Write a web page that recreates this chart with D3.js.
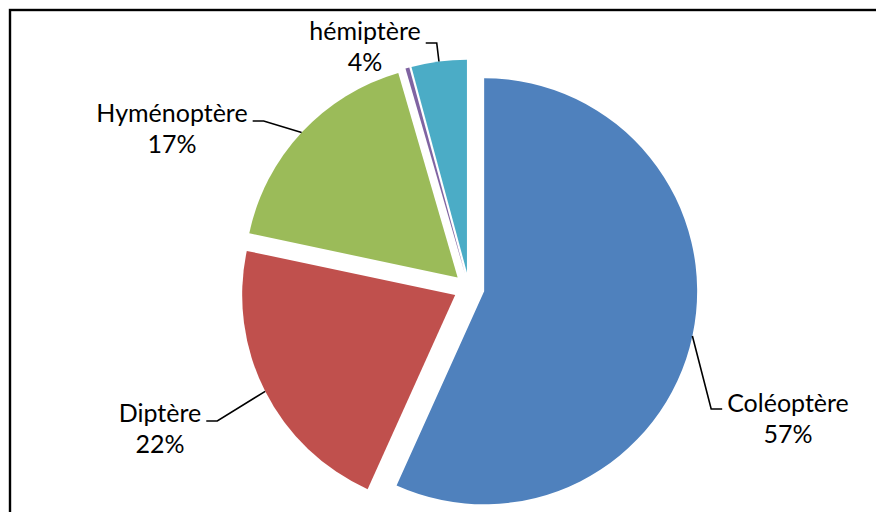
<!DOCTYPE html>
<html>
<head>
<meta charset="utf-8">
<script src="https://cdn.jsdelivr.net/npm/d3@7"></script>
<style>
  html, body { margin: 0; padding: 0; background: #fff; }
  svg { display: block; }
  text { font-family: Lato, "Open Sans", sans-serif; fill: #000; }
</style>
</head>
<body>
<svg id="chart" width="876" height="512"></svg>
<script>
// Insect orders, share of captured specimens
const categories = ["Coléoptère", "Diptère", "Hyménoptère", "autres", "hémiptère"];
const values = [56.8, 21.6, 17.2, 0.3, 4.2];
const colors = ["#4F81BD", "#C0504D", "#9BBB59", "#8064A2", "#4BACC6"];

// Label placement: centre x of the text block, first baseline, leader height
const labelLayout = [
  { x: 788, y: 412, ly: 409, side: "right" },
  { x: 160, y: 422, ly: 421, side: "left" },
  { x: 172, y: 122, ly: 121, side: "left" },
  null,
  { x: 365, y: 40, ly: 43, side: "left" }
];

const svg = d3.select("#chart");
const cx = 469, cy = 288, radius = 213, explode = 15.5;
const fontSize = 25, lineGap = 31;

// Chart frame (runs past the right and bottom edges)
svg.append("rect")
  .attr("x", 10).attr("y", 10)
  .attr("width", 900).attr("height", 600)
  .attr("fill", "none").attr("stroke", "#000").attr("stroke-width", 2.4);

const data = categories.map((c, i) => ({ name: c, value: values[i], color: colors[i], layout: labelLayout[i] }));
const total = d3.sum(values);
const pct = d3.format(".0%");

const pie = d3.pie().sort(null).value(d => d.value).startAngle(0).endAngle(2 * Math.PI);
const arc = d3.arc().innerRadius(0).outerRadius(radius);
const rim = d3.arc().innerRadius(radius).outerRadius(radius);

const arcs = pie(data);
const g = svg.append("g").attr("transform", `translate(${cx},${cy})`);

function shift(a) {
  const mid = (a.startAngle + a.endAngle) / 2;
  return [explode * Math.sin(mid), -explode * Math.cos(mid)];
}

g.selectAll("path.slice")
  .data(arcs)
  .join("path")
  .attr("class", "slice")
  .attr("d", arc)
  .attr("fill", d => d.data.color)
  .attr("transform", d => { const [dx, dy] = shift(d); return `translate(${dx},${dy})`; });

// Data labels with leader lines
const labels = svg.append("g");
arcs.forEach(a => {
  const L = a.data.layout;
  if (!L) return;
  const lines = [a.data.name, pct(a.data.value / total)];
  const tg = labels.append("g");
  const texts = lines.map((t, i) =>
    tg.append("text")
      .attr("x", L.x).attr("y", L.y + i * lineGap)
      .attr("text-anchor", "middle")
      .attr("font-size", fontSize)
      .text(t));
  const w = d3.max(texts, t => t.node().getComputedTextLength());
  const [dx, dy] = shift(a);
  const [px, py] = rim.centroid(a);
  const start = [cx + dx + px, cy + dy + py];
  const endX = L.side === "left" ? L.x + w / 2 + 5 : L.x - w / 2 - 5;
  const elbowX = L.side === "left" ? endX + 11 : endX - 11;
  labels.append("path")
    .attr("d", d3.line()([start, [elbowX, L.ly], [endX, L.ly]]))
    .attr("fill", "none")
    .attr("stroke", "#000")
    .attr("stroke-width", 1.6);
});
</script>
</body>
</html>
